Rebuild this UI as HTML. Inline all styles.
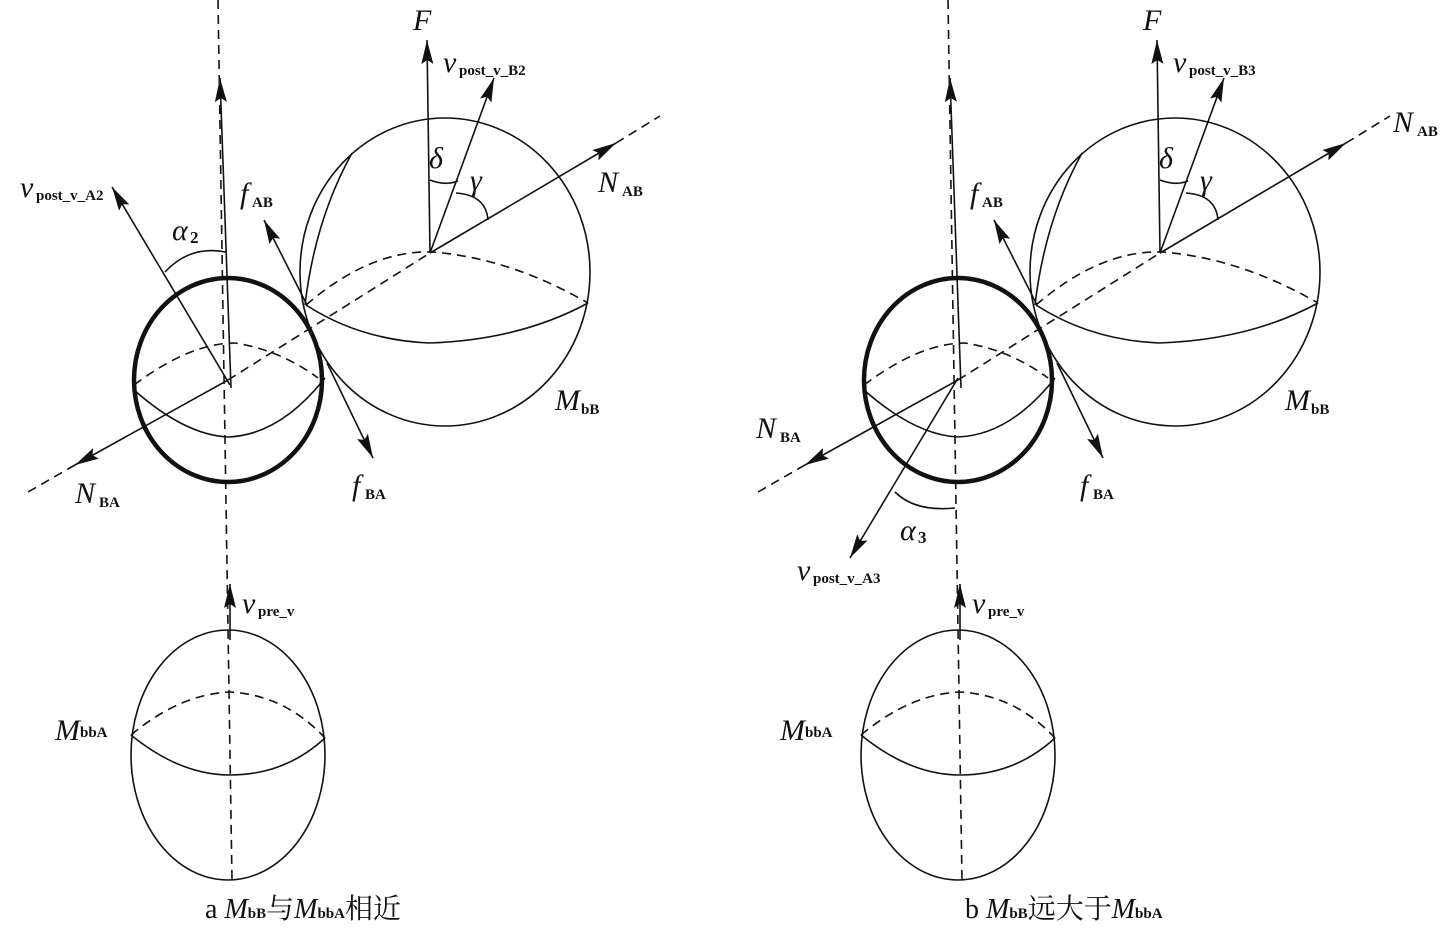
<!DOCTYPE html>
<html><head><meta charset="utf-8"><style>
html,body{margin:0;padding:0;background:#fff}
svg{display:block}
text{font-family:"Liberation Serif","Noto Serif CJK SC",serif;fill:#111}
.i{font-style:italic;font-size:30px}
.s{font-size:15px;font-weight:bold}
</style></head><body>
<svg width="1446" height="929" viewBox="0 0 1446 929" xmlns="http://www.w3.org/2000/svg">
<defs>
<marker id="a" viewBox="0 0 24 12" refX="24" refY="6" markerWidth="24" markerHeight="12" markerUnits="userSpaceOnUse" orient="auto">
<path d="M0,0 L24,6 L0,12 L4,6 Z" fill="#111"/></marker>
<g id="base" fill="none" stroke="#111" stroke-width="1.6">
<line x1="218" y1="0" x2="232" y2="880" stroke-dasharray="9,6"/>
<ellipse cx="445" cy="272" rx="145" ry="154"/>
<path d="M352,153 Q315,220 305,305"/>
<path d="M306,305 Q370,250 432,252 Q510,258 588,303" stroke-dasharray="9,6"/>
<path d="M306,305 Q360,340 429,343 Q520,340 588,303"/>
<ellipse cx="228" cy="380" rx="94" ry="102" stroke-width="4.5"/>
<path d="M134,385 Q190,343 235,343 Q280,350 318,378" stroke-dasharray="9,6"/>
<path d="M134,390 Q185,435 228,437 Q280,435 325,378"/>
<line x1="228" y1="380" x2="430" y2="253" stroke-dasharray="9,6"/>
<line x1="430" y1="253" x2="616" y2="143" marker-end="url(#a)"/>
<line x1="616" y1="143" x2="660" y2="116" stroke-dasharray="9,6"/>
<line x1="228" y1="380" x2="75" y2="465" marker-end="url(#a)"/>
<line x1="75" y1="465" x2="28" y2="492" stroke-dasharray="9,6"/>
<line x1="430" y1="253" x2="427" y2="40" marker-end="url(#a)"/>
<line x1="430" y1="253" x2="494" y2="78" marker-end="url(#a)"/>
<path d="M430,180 Q445,186 458,181"/>
<path d="M456,193 Q486,195 488,220"/>
<line x1="231" y1="388" x2="220" y2="78" marker-end="url(#a)"/>
<line x1="307" y1="305" x2="264" y2="220" marker-end="url(#a)"/>
<line x1="327" y1="363" x2="373" y2="458" marker-end="url(#a)"/>
<ellipse cx="228" cy="755" rx="97" ry="125"/>
<path d="M131,735 Q180,694 230,692 Q285,695 325,738" stroke-dasharray="9,6"/>
<path d="M131,735 Q180,775 230,775 Q285,775 325,738"/>
<line x1="230" y1="640" x2="230" y2="584" marker-end="url(#a)"/>
</g>
</defs>

<use href="#base"/>
<g fill="none" stroke="#111" stroke-width="1.6">
<line x1="230" y1="385" x2="112" y2="187" marker-end="url(#a)"/>
<path d="M165,272 Q190,245 226,252"/>
</g>
<text class="i" x="413" y="30">F</text>
<text class="i" x="443" y="72">v</text><text class="s" x="459" y="75">post_v_B2</text>
<text class="i" x="598" y="192">N</text><text class="s" x="622" y="196">AB</text>
<text class="i" x="429" y="168">δ</text>
<text class="i" x="470" y="190">γ</text>
<text class="i" x="20" y="197">v</text><text class="s" x="36" y="200">post_v_A2</text>
<text class="i" x="172" y="240">α</text><text class="s" x="190" y="243" style="font-size:17px">2</text>
<text class="i" x="240" y="203">f</text><text class="s" x="252" y="207">AB</text>
<text class="i" x="555" y="410">M</text><text class="s" x="581" y="414">bB</text>
<text class="i" x="75" y="503">N</text><text class="s" x="99" y="507">BA</text>
<text class="i" x="352" y="495">f</text><text class="s" x="365" y="499">BA</text>
<text class="i" x="242" y="613">v</text><text class="s" x="258" y="616">pre_v</text>
<text class="i" x="55" y="740">M</text><text class="s" x="80" y="737">bbA</text>
<text x="205" y="918" style="font-size:28px">a <tspan font-style="italic">M</tspan><tspan font-size="15" font-weight="bold">bB</tspan>与<tspan font-style="italic">M</tspan><tspan font-size="15" font-weight="bold">bbA</tspan>相近</text>

<use href="#base" transform="translate(730,0)"/>
<g fill="none" stroke="#111" stroke-width="1.6">
<line x1="958" y1="378" x2="850" y2="558" marker-end="url(#a)"/>
<path d="M895,492 Q915,512 955,508"/>
</g>
<text class="i" x="1143" y="30">F</text>
<text class="i" x="1173" y="72">v</text><text class="s" x="1189" y="75">post_v_B3</text>
<text class="i" x="1393" y="132">N</text><text class="s" x="1417" y="136">AB</text>
<text class="i" x="1159" y="168">δ</text>
<text class="i" x="1200" y="190">γ</text>
<text class="i" x="970" y="203">f</text><text class="s" x="982" y="207">AB</text>
<text class="i" x="1285" y="410">M</text><text class="s" x="1311" y="414">bB</text>
<text class="i" x="756" y="438">N</text><text class="s" x="780" y="442">BA</text>
<text class="i" x="1080" y="495">f</text><text class="s" x="1093" y="499">BA</text>
<text class="i" x="900" y="540">α</text><text class="s" x="918" y="543" style="font-size:17px">3</text>
<text class="i" x="797" y="580">v</text><text class="s" x="813" y="583">post_v_A3</text>
<text class="i" x="972" y="613">v</text><text class="s" x="988" y="616">pre_v</text>
<text class="i" x="780" y="740">M</text><text class="s" x="805" y="737">bbA</text>
<text x="965" y="918" style="font-size:28px">b <tspan font-style="italic">M</tspan><tspan font-size="15" font-weight="bold">bB</tspan>远大于<tspan font-style="italic">M</tspan><tspan font-size="15" font-weight="bold">bbA</tspan></text>
</svg>
</body></html>
